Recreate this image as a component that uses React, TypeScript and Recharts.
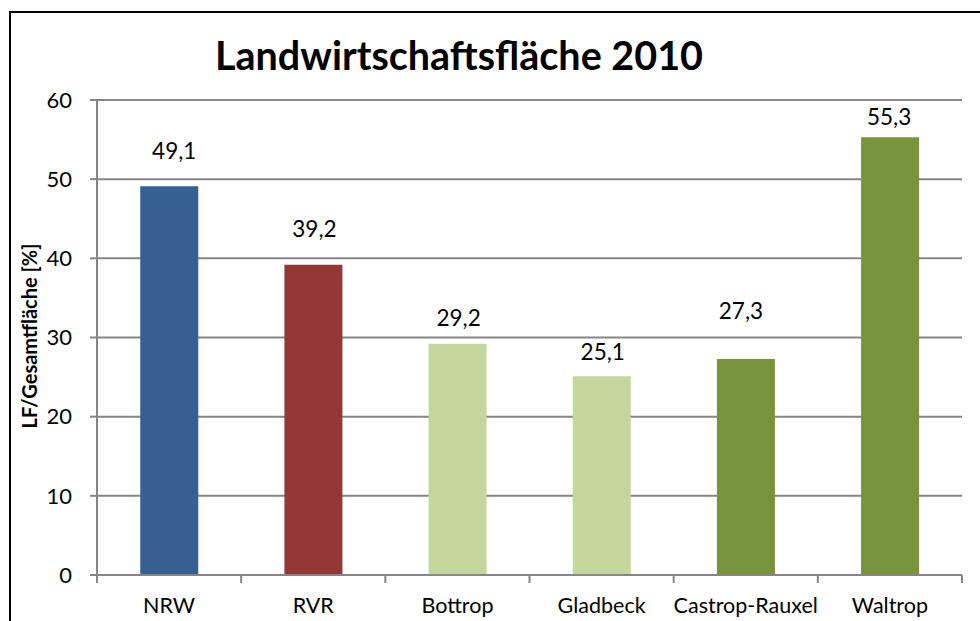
import React from "react";
import { BarChart, Bar, XAxis, YAxis, CartesianGrid, Cell, LabelList } from "recharts";

const categories = ["NRW", "RVR", "Bottrop", "Gladbeck", "Castrop-Rauxel", "Waltrop"];
const values = [49.1, 39.2, 29.2, 25.1, 27.3, 55.3];
const yTicks = [0, 10, 20, 30, 40, 50, 60];
const title = "Landwirtschaftsfläche 2010";
const yLabel = "LF/Gesamtfläche [%]";

// styles
const barColors = ["#376092", "#953735", "#C3D69B", "#C3D69B", "#77933C", "#77933C"];
const labelLift = [27, 28, 18, 16, 40, 12];
const labelShift = [5, 1, 1, 1, -5, -1];

const data = categories.map((c, i) => ({ name: c, value: values[i] }));

const FONT = "Lato, 'Open Sans', sans-serif";
const GRAY = "#868686";
const W = 980;
const H = 621;
const LEFT = 97;
const RIGHT = 18;
const TOP = 100;
const XAXIS_H = 46;
const BAND = (W - LEFT - RIGHT) / categories.length;

const XTick = (props: any) => {
  const { x, y, payload } = props;
  const top = y - 8;
  const isLast = payload && payload.value === categories[categories.length - 1];
  return (
    <g>
      <line x1={x - BAND / 2} x2={x - BAND / 2} y1={top} y2={top + 8} stroke={GRAY} strokeWidth={2} />
      {isLast && <line x1={x + BAND / 2} x2={x + BAND / 2} y1={top} y2={top + 8} stroke={GRAY} strokeWidth={2} />}
      <text x={x} y={top + 38} textAnchor="middle" fontFamily={FONT} fontSize={21.5} fill="#000">
        {payload.value}
      </text>
    </g>
  );
};

const ValueLabel = (props: any) => {
  const { x, y, width, value, index } = props;
  return (
    <text
      x={x + width / 2 + (labelShift[index] || 0)}
      y={y - (labelLift[index] || 0)}
      textAnchor="middle"
      fontFamily={FONT}
      fontSize={22.5}
      fill="#000"
    >
      {String(value).replace(".", ",")}
    </text>
  );
};

export default function App() {
  return (
    <div style={{ position: "absolute", left: 0, top: 0, width: W, height: H, overflow: "hidden", background: "#fff" }}>
      <div
        style={{
          position: "absolute",
          left: 9,
          top: 11,
          width: 2000,
          height: 2000,
          borderLeft: "2px solid #000",
          borderTop: "2px solid #000",
        }}
      />
      <div style={{ position: "absolute", left: 0, top: 0 }}>
        <BarChart
          width={W}
          height={H}
          data={data}
          margin={{ top: TOP, right: RIGHT, bottom: 0, left: 0 }}
          barCategoryGap="30%"
        >
          <CartesianGrid vertical={false} stroke={GRAY} strokeWidth={2} />
          <XAxis
            dataKey="name"
            height={XAXIS_H}
            axisLine={{ stroke: GRAY, strokeWidth: 2 }}
            tickLine={false}
            tick={<XTick />}
            interval={0}
          />
          <YAxis
            width={LEFT}
            domain={[0, 60]}
            ticks={yTicks}
            interval={0}
            axisLine={{ stroke: GRAY, strokeWidth: 2 }}
            tickLine={{ stroke: GRAY, strokeWidth: 2 }}
            tickSize={7}
            tickMargin={18}
            tick={{ fontFamily: FONT, fontSize: 22, fill: "#000" }}
          />
          <Bar dataKey="value" isAnimationActive={false}>
            {data.map((d, i) => (
              <Cell key={d.name} fill={barColors[i]} />
            ))}
            <LabelList dataKey="value" content={<ValueLabel />} />
          </Bar>
        </BarChart>
      </div>
      <svg width={W} height={H} style={{ position: "absolute", left: 0, top: 0, pointerEvents: "none" }}>
        <text x={459} y={70} textAnchor="middle" fontFamily={FONT} fontWeight="bold" fontSize={39.5} fill="#000">
          {title}
        </text>
        <text
          transform="translate(37, 336) rotate(-90)"
          textAnchor="middle"
          fontFamily={FONT}
          fontWeight="bold"
          fontSize={20}
          fill="#000"
        >
          {yLabel}
        </text>
      </svg>
    </div>
  );
}
